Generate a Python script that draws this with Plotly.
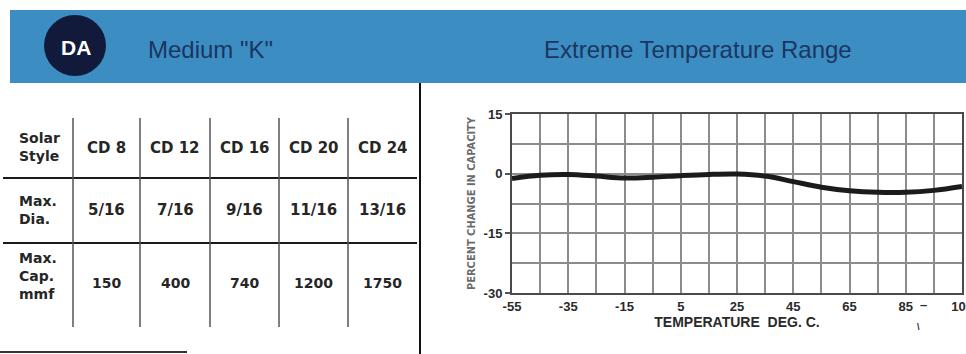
import plotly.graph_objects as go

# ---- data ----
temps = [-55, -45, -35, -25, -15, -5, 5, 15, 25, 35, 45, 55, 65, 75, 85, 95, 105]
pct_change = [-1.2, -0.4, -0.2, -0.6, -1.1, -0.9, -0.5, -0.2, -0.1, -0.6, -2.0, -3.4, -4.3, -4.7, -4.7, -4.2, -3.2]
x_ticks = [-55, -35, -15, 5, 25, 45, 65, 85, 105]
y_ticks = [-30, -15, 0, 15]

styles = ["CD 8", "CD 12", "CD 16", "CD 20", "CD 24"]
max_dia = ["5/16", "7/16", "9/16", "11/16", "13/16"]
max_cap = [150, 400, 740, 1200, 1750]
row_labels = ["Solar<br>Style", "Max.<br>Dia.", "Max.<br>Cap.<br>mmf"]

badge = "DA"
series_name = 'Medium "K"'
chart_title = "Extreme Temperature Range"
x_title = "TEMPERATURE  DEG. C."
y_title = "PERCENT CHANGE IN CAPACITY"

# ---- layout helpers (pixel -> paper fraction) ----
W, H = 966, 354
def fx(p):
    return p / W
def fy(p):
    return 1 - p / H

HEAD = "Liberation Sans, Arial, sans-serif"
NARROW = "Liberation Sans Narrow, DejaVu Sans Condensed, Liberation Sans, sans-serif"
TXT = "#262626"
GRID = "#8c8c8c"

fig = go.Figure()
fig.add_trace(go.Scatter(
    x=temps, y=pct_change, mode="lines",
    line=dict(color="#1b1b1b", width=5, shape="spline", smoothing=1.0),
    hoverinfo="skip", showlegend=False,
))

tickfont = dict(family="Liberation Sans, Arial, sans-serif", size=13, color="#2a2a2a", weight="bold")

fig.update_xaxes(
    domain=[fx(512), fx(962)], range=[-55, 105], automargin=False,
    tickmode="array", tickvals=x_ticks, ticktext=[str(v) for v in x_ticks],
    ticklabeloverflow="allow",
    showgrid=True, gridcolor=GRID, gridwidth=1.5,
    minor=dict(tickmode="linear", tick0=-55, dtick=10, showgrid=True, gridcolor=GRID, gridwidth=1.5),
    showline=True, mirror=True, linecolor="#4a4a4a", linewidth=2,
    zeroline=False, ticks="", tickfont=tickfont,
    title=dict(text=x_title, standoff=4,
               font=dict(family="Liberation Sans, Arial, sans-serif", size=14, color="#2a2a2a", weight="bold")),
    fixedrange=True,
)
fig.update_yaxes(
    domain=[fy(293), fy(114)], range=[-30, 15], automargin=False,
    tickmode="array", tickvals=y_ticks, ticktext=[str(v) for v in y_ticks],
    ticklabeloverflow="allow",
    showgrid=True, gridcolor=GRID, gridwidth=1.5,
    minor=dict(tickmode="linear", tick0=-30, dtick=7.5, showgrid=True, gridcolor=GRID, gridwidth=1.5),
    showline=True, mirror=True, linecolor="#4a4a4a", linewidth=2,
    zeroline=False, ticks="outside", ticklen=5, tickcolor="#555", tickwidth=1.5,
    tickfont=tickfont,
    title=dict(text=y_title, standoff=6,
               font=dict(family=NARROW, size=11, color="#6a6a6a", weight="bold")),
    fixedrange=True,
)

shapes = []
annotations = []

# header band
shapes.append(dict(type="rect", xref="paper", yref="paper",
                   x0=fx(10), x1=fx(966), y0=fy(83), y1=fy(10),
                   fillcolor="#3b8dc2", line=dict(width=0), layer="below"))
# badge circle
shapes.append(dict(type="circle", xref="paper", yref="paper",
                   x0=fx(44), x1=fx(106), y0=fy(76), y1=fy(15),
                   fillcolor="#111a3a", line=dict(width=0)))
annotations.append(dict(text=badge, xref="paper", yref="paper", x=fx(76), y=fy(48),
                        showarrow=False, xanchor="center", yanchor="middle",
                        font=dict(family=HEAD, size=21, color="white", weight="bold")))
annotations.append(dict(text=series_name, xref="paper", yref="paper", x=fx(146), y=fy(49),
                        showarrow=False, xanchor="left", yanchor="middle",
                        font=dict(family=HEAD, size=24, color="#1c3561")))
annotations.append(dict(text=chart_title, xref="paper", yref="paper", x=fx(542), y=fy(49),
                        showarrow=False, xanchor="left", yanchor="middle",
                        font=dict(family=HEAD, size=24, color="#1c3561")))

# divider between table and chart
shapes.append(dict(type="line", xref="paper", yref="paper",
                   x0=fx(420), x1=fx(420), y0=fy(83), y1=fy(354),
                   line=dict(color="#111", width=2)))

# table rules
for yy in (178, 243):
    shapes.append(dict(type="line", xref="paper", yref="paper",
                       x0=fx(3), x1=fx(417), y0=fy(yy), y1=fy(yy),
                       line=dict(color="#1a1a1a", width=2)))
col_edges = [73, 140, 210, 279, 348, 417]
for xx in col_edges[:-1]:
    shapes.append(dict(type="line", xref="paper", yref="paper",
                       x0=fx(xx), x1=fx(xx), y0=fy(118), y1=fy(327),
                       line=dict(color="#555", width=1.5)))
shapes.append(dict(type="line", xref="paper", yref="paper",
                   x0=fx(0), x1=fx(187), y0=fy(352), y1=fy(352),
                   line=dict(color="#333", width=2)))

row_y = [147, 210, 276]
label_font = dict(family="DejaVu Sans, sans-serif", size=14, color=TXT, weight="bold")
for lbl, yy in zip(row_labels, row_y):
    annotations.append(dict(text=lbl, xref="paper", yref="paper", x=fx(17), y=fy(yy),
                            showarrow=False, xanchor="left", yanchor="middle", align="left",
                            font=label_font))

centers = [(col_edges[i] + col_edges[i + 1]) / 2 for i in range(5)]
rows = [
    (styles, 148, 15),
    (max_dia, 210, 15),
    ([str(v) for v in max_cap], 283, 14),
]
for vals, yy, sz in rows:
    for cx, v in zip(centers, vals):
        annotations.append(dict(text=v, xref="paper", yref="paper", x=fx(cx), y=fy(yy),
                                showarrow=False, xanchor="center", yanchor="middle",
                                font=dict(family="DejaVu Sans, sans-serif", size=sz, color=TXT, weight="bold")))

# stray print marks near the x axis
annotations.append(dict(text="–", xref="paper", yref="paper", x=fx(923), y=fy(304),
                        showarrow=False, xanchor="center", yanchor="middle",
                        font=dict(family="Liberation Sans, sans-serif", size=13, color="#2a2a2a", weight="bold")))
annotations.append(dict(text="\\", xref="paper", yref="paper", x=fx(918), y=fy(327),
                        showarrow=False, xanchor="center", yanchor="middle",
                        font=dict(family="Liberation Sans, sans-serif", size=9, color="#2a2a2a", weight="bold")))

fig.update_layout(
    width=W, height=H,
    margin=dict(l=0, r=0, t=0, b=0, autoexpand=False),
    paper_bgcolor="white", plot_bgcolor="white",
    shapes=shapes, annotations=annotations,
    showlegend=False,
)

pin_js = (
    "document.documentElement.style.margin='0';"
    "document.documentElement.style.overflow='hidden';"
    "document.body.style.margin='0';"
    "document.body.style.overflow='hidden';"
    "var gd=document.getElementById('{plot_id}');"
    "gd.style.position='fixed';gd.style.top='0px';gd.style.left='0px';"
)

fig.write_html("out.html", config={"displayModeBar": False}, post_script=pin_js)
